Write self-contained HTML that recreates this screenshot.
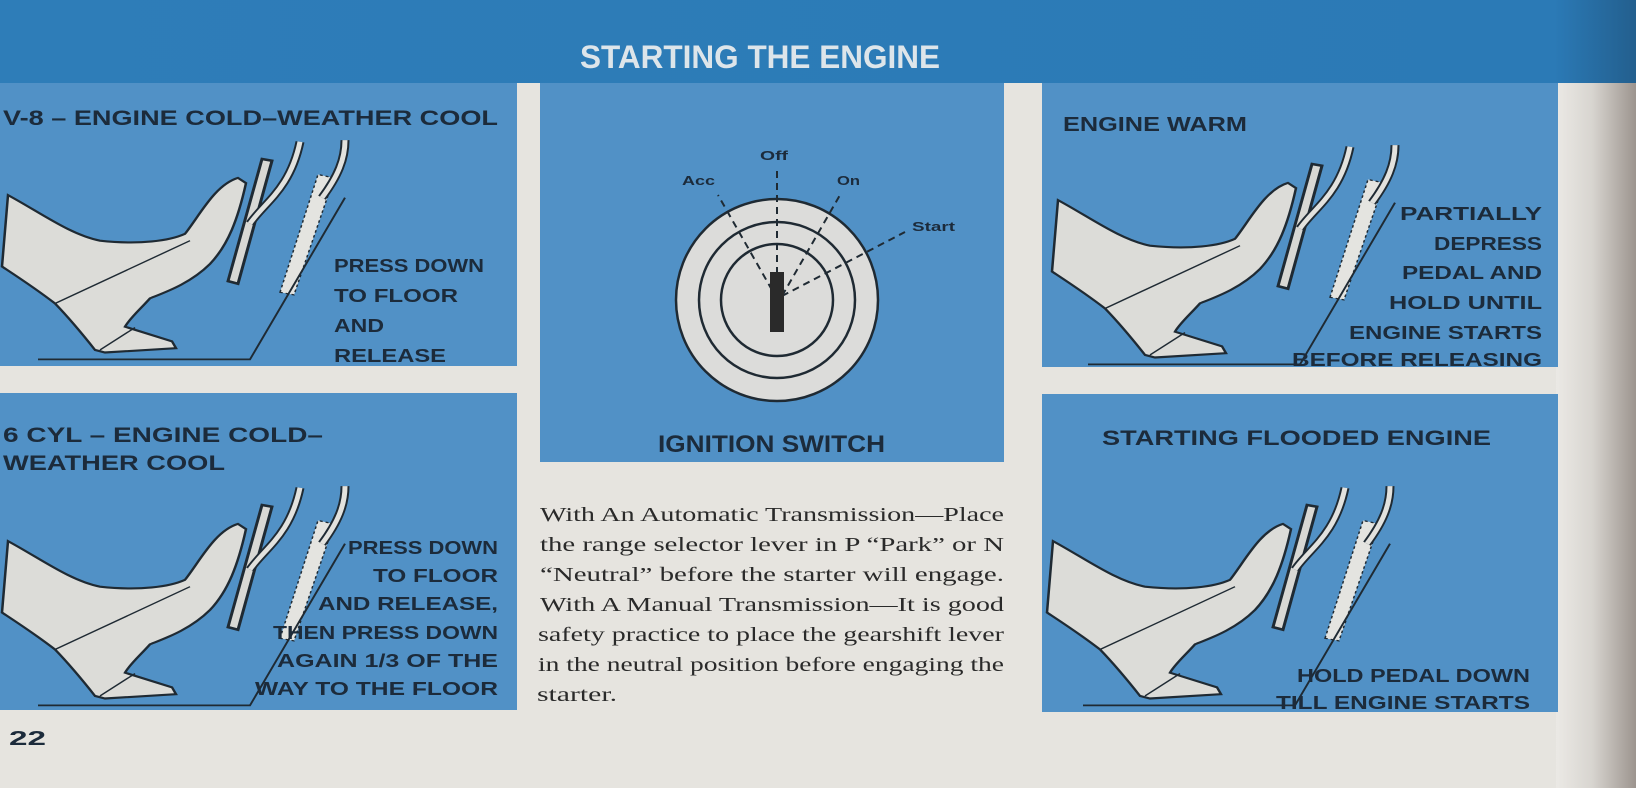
<!DOCTYPE html>
<html><head><meta charset="utf-8"><style>
html,body{margin:0;padding:0;width:1636px;height:788px;overflow:hidden;background:#e6e4df}
svg{display:block}
</style></head><body>
<svg width="1636" height="788" viewBox="0 0 1636 788" xmlns="http://www.w3.org/2000/svg">
<defs>
<linearGradient id="edge" x1="0" x2="1" y1="0" y2="0">
<stop offset="0" stop-color="#ebe9e5"/><stop offset="0.45" stop-color="#d8d5d0"/><stop offset="1" stop-color="#9c948e"/>
</linearGradient>
<linearGradient id="hdr" x1="0" x2="1" y1="0" y2="0">
<stop offset="0" stop-color="#2e7db8"/><stop offset="0.95" stop-color="#2b7ab6"/><stop offset="1" stop-color="#235f8e"/>
</linearGradient>
<g id="foot">
<path d="M8,192 C40,212 70,238 100,245 C140,250 170,245 185,237 C200,215 215,180 238,172 L246,178 C238,220 228,250 210,272 C190,295 165,305 150,312 C140,325 130,335 125,345 L172,362 L176,370 L105,375 L95,372 C80,350 65,330 55,318 C35,300 15,285 2,275 Z" fill="#dcdcd8" stroke="#1f2a33" stroke-width="2.5"/>
<path d="M55,318 L190,245" fill="none" stroke="#1f2a33" stroke-width="1.6"/>
<path d="M100,372 L135,346" fill="none" stroke="#1f2a33" stroke-width="1.6"/>
<path d="M228,292 L262,150 L272,152 L238,295 Z" fill="#d8d8d4" stroke="#1f2a33" stroke-width="3"/>
<path d="M250,225 C265,200 290,185 300,130" fill="none" stroke="#1f2a33" stroke-width="9"/>
<path d="M250,225 C265,200 290,185 300,130" fill="none" stroke="#e2e2de" stroke-width="5"/>
<path d="M280,305 L318,168 L334,172 L294,308 Z" fill="#e4e4e0" stroke="#1f2a33" stroke-width="1.5" stroke-dasharray="3,3"/>
<path d="M322,195 C338,170 345,150 345,128" fill="none" stroke="#1f2a33" stroke-width="9"/>
<path d="M322,195 C338,170 345,150 345,128" fill="none" stroke="#e2e2de" stroke-width="5"/>
<path d="M38,383 L250,383 L345,195" fill="none" stroke="#1f2a33" stroke-width="2"/>
</g>
</defs>

<rect x="1556" y="0" width="80" height="788" fill="url(#edge)"/>
<rect x="0" y="0" width="1636" height="83" fill="url(#hdr)"/>
<text x="580" y="68" font-family="Liberation Sans, sans-serif" font-weight="bold" font-size="32" fill="#dde5ea" textLength="360" lengthAdjust="spacingAndGlyphs">STARTING THE ENGINE</text>

<rect x="0" y="83" width="517" height="283" fill="#5191c6"/>
<rect x="0" y="393" width="517" height="317" fill="#5191c6"/>
<rect x="540" y="83" width="464" height="379" fill="#5191c6"/>
<rect x="1042" y="83" width="516" height="284" fill="#5191c6"/>
<rect x="1042" y="394" width="516" height="318" fill="#5191c6"/>

<use href="#foot" transform="translate(0,30) scale(1,0.86)"/>
<use href="#foot" transform="translate(0,376) scale(1,0.86)"/>
<use href="#foot" transform="translate(1050,35) scale(1,0.86)"/>
<use href="#foot" transform="translate(1045,376) scale(1,0.86)"/>

<g font-family="Liberation Sans, sans-serif" font-weight="bold" fill="#1c2b3b">
<text x="3" y="125" font-size="21" textLength="495" lengthAdjust="spacingAndGlyphs">V-8 – ENGINE COLD–WEATHER COOL</text>
<g font-size="18">
<text x="334" y="272" textLength="150" lengthAdjust="spacingAndGlyphs">PRESS DOWN</text>
<text x="334" y="302" textLength="124" lengthAdjust="spacingAndGlyphs">TO FLOOR</text>
<text x="334" y="332" textLength="50" lengthAdjust="spacingAndGlyphs">AND</text>
<text x="334" y="362" textLength="112" lengthAdjust="spacingAndGlyphs">RELEASE</text>
</g>
<text x="3" y="442" font-size="21" textLength="320" lengthAdjust="spacingAndGlyphs">6 CYL – ENGINE COLD–</text>
<text x="3" y="470" font-size="21" textLength="222" lengthAdjust="spacingAndGlyphs">WEATHER COOL</text>
<g font-size="18">
<text x="348" y="554" textLength="150" lengthAdjust="spacingAndGlyphs">PRESS DOWN</text>
<text x="373" y="582" textLength="125" lengthAdjust="spacingAndGlyphs">TO FLOOR</text>
<text x="318" y="610" textLength="180" lengthAdjust="spacingAndGlyphs">AND RELEASE,</text>
<text x="273" y="639" textLength="225" lengthAdjust="spacingAndGlyphs">THEN PRESS DOWN</text>
<text x="277" y="667" textLength="221" lengthAdjust="spacingAndGlyphs">AGAIN 1/3 OF THE</text>
<text x="255" y="695" textLength="243" lengthAdjust="spacingAndGlyphs">WAY TO THE FLOOR</text>
</g>
<text x="1063" y="131" font-size="20" textLength="184" lengthAdjust="spacingAndGlyphs">ENGINE WARM</text>
<g font-size="18">
<text x="1400" y="220" textLength="142" lengthAdjust="spacingAndGlyphs">PARTIALLY</text>
<text x="1434" y="250" textLength="108" lengthAdjust="spacingAndGlyphs">DEPRESS</text>
<text x="1402" y="279" textLength="140" lengthAdjust="spacingAndGlyphs">PEDAL AND</text>
<text x="1389" y="309" textLength="153" lengthAdjust="spacingAndGlyphs">HOLD UNTIL</text>
<text x="1349" y="339" textLength="193" lengthAdjust="spacingAndGlyphs">ENGINE STARTS</text>
<text x="1292" y="366" textLength="250" lengthAdjust="spacingAndGlyphs">BEFORE RELEASING</text>
</g>
<text x="1102" y="445" font-size="21" textLength="389" lengthAdjust="spacingAndGlyphs">STARTING FLOODED ENGINE</text>
<g font-size="18">
<text x="1297" y="682" textLength="233" lengthAdjust="spacingAndGlyphs">HOLD PEDAL DOWN</text>
<text x="1276" y="709" textLength="254" lengthAdjust="spacingAndGlyphs">TILL ENGINE STARTS</text>
</g>
<text x="658" y="452" font-size="24" textLength="227" lengthAdjust="spacingAndGlyphs">IGNITION SWITCH</text>
<text x="9" y="745" font-size="20" textLength="37" lengthAdjust="spacingAndGlyphs">22</text>
<g font-size="13">
<text x="760" y="160" textLength="28" lengthAdjust="spacingAndGlyphs">Off</text>
<text x="682" y="185" textLength="33" lengthAdjust="spacingAndGlyphs">Acc</text>
<text x="837" y="185" textLength="23" lengthAdjust="spacingAndGlyphs">On</text>
<text x="912" y="231" textLength="43" lengthAdjust="spacingAndGlyphs">Start</text>
</g>
</g>

<circle cx="777" cy="300" r="101" fill="#dcdcda" stroke="#1f2a33" stroke-width="2.5"/>
<circle cx="777" cy="300" r="78" fill="none" stroke="#1f2a33" stroke-width="2.5"/>
<circle cx="777" cy="300" r="56" fill="none" stroke="#1f2a33" stroke-width="2.5"/>
<g stroke="#1f2a33" stroke-width="2" stroke-dasharray="7,5" fill="none">
<path d="M777,298 L777,170"/>
<path d="M772,290 L718,195"/>
<path d="M782,296 L840,195"/>
<path d="M782,296 L905,232"/>
</g>
<rect x="770" y="272" width="14" height="60" fill="#2a2a2a"/>

<g font-family="Liberation Serif, serif" font-size="20" fill="#2a2a2a">
<text x="540" y="521" textLength="464" lengthAdjust="spacingAndGlyphs">With An Automatic Transmission—Place</text>
<text x="540" y="551" textLength="464" lengthAdjust="spacingAndGlyphs">the range selector lever in P “Park” or N</text>
<text x="540" y="581" textLength="464" lengthAdjust="spacingAndGlyphs">“Neutral” before the starter will engage.</text>
<text x="540" y="611" textLength="464" lengthAdjust="spacingAndGlyphs">With A Manual Transmission—It is good</text>
<text x="538" y="641" textLength="466" lengthAdjust="spacingAndGlyphs">safety practice to place the gearshift lever</text>
<text x="538" y="671" textLength="466" lengthAdjust="spacingAndGlyphs">in the neutral position before engaging the</text>
<text x="537" y="701" textLength="80" lengthAdjust="spacingAndGlyphs">starter.</text>
</g>
</svg>
</body></html>
